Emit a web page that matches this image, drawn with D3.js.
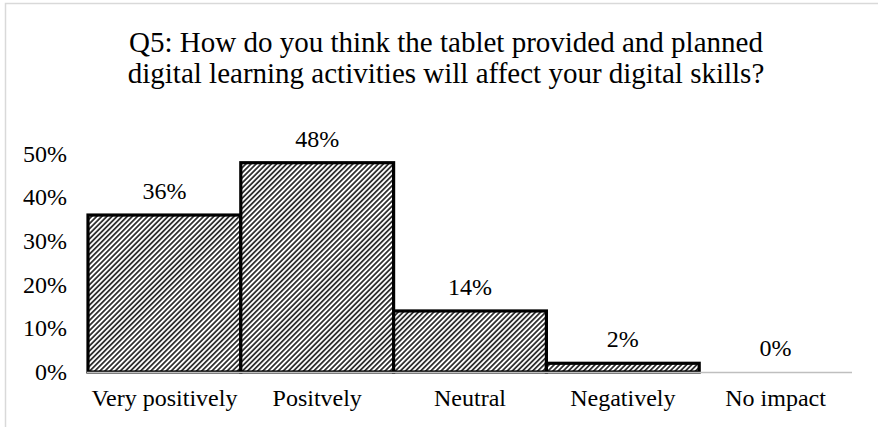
<!DOCTYPE html>
<html>
<head>
<meta charset="utf-8">
<script src="https://cdn.jsdelivr.net/npm/d3@7"></script>
<style>
  html, body { margin: 0; padding: 0; background: #fff; }
  svg { display: block; font-family: "Liberation Serif", "Times New Roman", serif; }
</style>
</head>
<body>
<svg id="chart" width="878" height="427"></svg>
<script>
// Survey responses, Q5
const titleLines = [
  "Q5: How do you think the tablet provided and planned",
  "digital learning activities will affect your digital skills?"
];
const categories = ["Very positively", "Positvely", "Neutral", "Negatively", "No impact"];
const shares = [0.36, 0.48, 0.14, 0.02, 0.00];
const tickValues = [0, 0.1, 0.2, 0.3, 0.4, 0.5];

const svg = d3.select("#chart");
const W = 878, H = 427;
const plot = { left: 88, right: 852, top: 154, bottom: 372 };
const labelSize = 24;

svg.append("rect").attr("width", W).attr("height", H).attr("fill", "#fff");

// Chart frame (top and left edges visible)
svg.append("path")
  .attr("d", `M5.5,${H} V3.5 H${W}`)
  .attr("fill", "none")
  .attr("stroke", "#d9d9d9")
  .attr("stroke-width", 1.5);

// Diagonal hatch fill
const defs = svg.append("defs");
const pat = defs.append("pattern")
  .attr("id", "hatch")
  .attr("patternUnits", "userSpaceOnUse")
  .attr("width", 3.6)
  .attr("height", 3.6)
  .attr("patternTransform", "rotate(45)");
pat.append("rect").attr("width", 3.6).attr("height", 3.6).attr("fill", "#fff");
pat.append("line")
  .attr("x1", 1.8).attr("y1", 0).attr("x2", 1.8).attr("y2", 3.6)
  .attr("stroke", "#000").attr("stroke-width", 1.45);

const x = d3.scaleBand().domain(categories).range([plot.left, plot.right]).padding(0);
const y = d3.scaleLinear().domain([0, 0.5]).range([plot.bottom, plot.top]);

const data = categories.map((c, i) => ({ c, v: shares[i] }));

// Title
svg.append("text")
  .attr("text-anchor", "middle")
  .attr("font-size", 29)
  .attr("fill", "#000")
  .selectAll("tspan")
  .data(titleLines)
  .join("tspan")
  .attr("x", 446)
  .attr("y", (d, i) => 52 + i * 31)
  .text(d => d);

// Bars
svg.append("g")
  .selectAll("rect")
  .data(data)
  .join("rect")
  .attr("x", d => x(d.c))
  .attr("y", d => y(d.v))
  .attr("width", x.bandwidth())
  .attr("height", d => y(0) - y(d.v))
  .attr("fill", "url(#hatch)")
  .attr("stroke", d => d.v > 0 ? "#000" : "none")
  .attr("stroke-width", 3.2);

// Category axis line
svg.append("line")
  .attr("x1", plot.left - 1).attr("x2", plot.right)
  .attr("y1", y(0) + 0.5).attr("y2", y(0) + 0.5)
  .attr("stroke", "#bfbfbf")
  .attr("stroke-width", 1.5);

// Value axis labels
const yAxis = d3.axisLeft(y).tickValues(tickValues).tickFormat(d3.format(".0%")).tickSize(0).tickPadding(0);
const gy = svg.append("g").attr("transform", "translate(67,0)").call(yAxis);
gy.select(".domain").remove();
gy.selectAll("text")
  .attr("font-family", "Liberation Serif, Times New Roman, serif")
  .attr("font-size", labelSize)
  .attr("fill", "#000")
  .attr("dy", "0.3em");

// Category labels
const xAxis = d3.axisBottom(x).tickSize(0).tickPadding(0);
const gx = svg.append("g").call(xAxis);
gx.select(".domain").remove();
gx.selectAll("text")
  .attr("font-family", "Liberation Serif, Times New Roman, serif")
  .attr("font-size", labelSize)
  .attr("fill", "#000")
  .attr("y", 406)
  .attr("dy", 0);

// Value labels above bars
svg.append("g")
  .selectAll("text")
  .data(data)
  .join("text")
  .attr("x", d => x(d.c) + x.bandwidth() / 2)
  .attr("y", d => y(d.v) - 16)
  .attr("text-anchor", "middle")
  .attr("font-size", labelSize)
  .attr("fill", "#000")
  .text(d => d3.format(".0%")(d.v));
</script>
</body>
</html>
